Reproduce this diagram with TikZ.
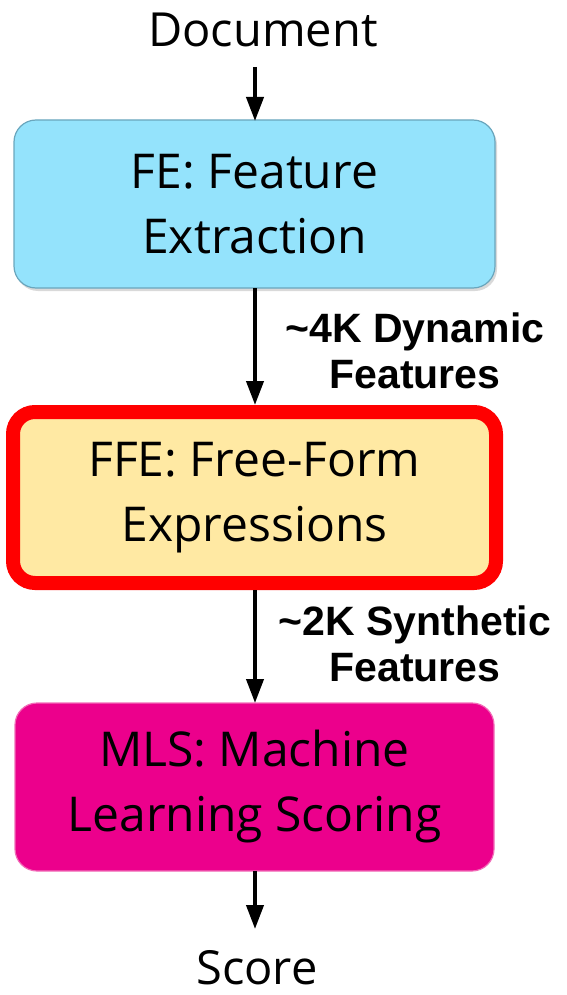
\documentclass[tikz,border=0pt]{standalone}
\usepackage{fontspec}
\setmainfont{Open Sans}
\newfontfamily\labelfont{Liberation Sans}
\usetikzlibrary{arrows.meta,shadows}
\definecolor{fefill}{HTML}{94E3FC}
\definecolor{feedge}{HTML}{6AA6BD}
\definecolor{ffefill}{HTML}{FFE9A3}
\definecolor{ffeedge}{HTML}{FF0000}
\definecolor{mlsfill}{HTML}{EC008C}
\definecolor{mlsedge}{HTML}{F26DB8}
\begin{document}
\begin{tikzpicture}[x=1pt,y=-1pt,
  box/.style={rounded corners=22pt, align=center, inner sep=0pt,
    font=\fontsize{48}{65}\selectfont},
  shad/.style={drop shadow={opacity=0.3, shadow xshift=2pt, shadow yshift=-3pt}},
  febox/.style={box, shad, draw=feedge, line width=1.2pt, fill=fefill,
    minimum width=481pt, minimum height=168pt},
  ffebox/.style={box, shad, draw=ffeedge, line width=14pt, fill=ffefill,
    minimum width=483pt, minimum height=171pt},
  mlsbox/.style={box, draw=mlsedge, line width=1.2pt, fill=mlsfill,
    minimum width=479pt, minimum height=168pt},
  term/.style={inner sep=0pt, font=\fontsize{47}{56}\selectfont},
  flow/.style={line width=4pt, -{Triangle[length=24pt,width=17pt]}},
  lbl/.style={inner sep=0pt, align=center,
    font=\labelfont\bfseries\fontsize{41}{46}\selectfont}
]
\path[use as bounding box] (0,0) rectangle (567,995);

\node[term] (doc) at (263,30) {Document};
\node[febox] (fe) at (254.5,204) {FE: Feature\\Extraction};
\node[ffebox] (ffe) at (254.5,497.5) {FFE: Free-Form\\Expressions};
\node[mlsbox] (mls) at (254.5,787) {MLS: Machine\\Learning Scoring};
\node[term] (score) at (257,968) {Score};

\coordinate (a1s) at (255,67);
\coordinate (a1e) at (255,121);
\coordinate (a2s) at (255,288);
\coordinate (a2e) at (255,405);
\coordinate (a3s) at (255,590);
\coordinate (a3e) at (255,703);
\coordinate (a4s) at (255,871);
\coordinate (a4e) at (255,929);

\draw[flow] (a1s) -- (a1e);
\draw[flow] (a2s) -- (a2e);
\draw[flow] (a3s) -- (a3e);
\draw[flow] (a4s) -- (a4e);

\node[lbl] (l1) at (415,351) {\textasciitilde4K Dynamic\\Features};
\node[lbl] (l2) at (415,644) {\textasciitilde2K Synthetic\\Features};
\end{tikzpicture}
\end{document}
